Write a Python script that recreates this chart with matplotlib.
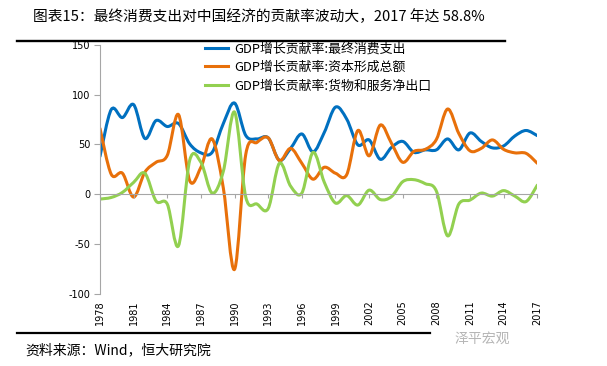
import numpy as np
import matplotlib
matplotlib.use("Agg")
import matplotlib.pyplot as plt
from matplotlib.path import Path
from matplotlib.patches import PathPatch
from matplotlib.lines import Line2D

plt.rcParams['font.family'] = ['Noto Sans CJK SC', 'DejaVu Sans']

years = list(range(1978, 2018))
consumption = [38, 85, 77, 90, 56, 74, 68, 71, 50.5, 41.5,
               42, 71, 91.6, 59, 55.5, 56.6, 34, 46, 60.5, 42.5,
               62, 87.5, 75.5, 49.5, 54.5, 35, 47, 53, 42, 44.5,
               44.5, 55.5, 44.5, 61.5, 53, 46.5, 48.5, 58.5, 64, 58.8]
capital = [66, 20, 21, -3, 22, 32, 39, 80, 13.5, 27,
           55.5, 6, -75.7, 40, 52, 56.6, 33.7, 46, 31, 15,
           27, 21, 19.5, 64, 38.5, 69.5, 51, 32, 43, 45,
           55, 85.6, 61, 43.5, 46, 54.5, 45, 41.5, 41, 31]
net_exports = [-5, -3.4, 1.7, 11.8, 21, -7, -10, -52, 34, 32,
               1, 23, 82.5, -3, -10, -14.5, 31, 8, 1, 42,
               12, -9, -1.5, -11, 4, -5.5, -2.5, 12.5, 14.5, 10.5,
               3, -42, -10, -6, 1, -2, 3.5, -2, -7.5, 9]
series_names = ['GDP增长贡献率:最终消费支出',
                'GDP增长贡献率:资本形成总额',
                'GDP增长贡献率:货物和服务净出口']
colors = ['#0070C0', '#E8700A', '#92D050']
xtick_years = list(range(1978, 2018, 3))
yticks = [-100, -50, 0, 50, 100, 150]
title = '图表15：最终消费支出对中国经济的贡献率波动大，2017 年达 58.8%'
source = '资料来源：Wind，恒大研究院'


def smooth_path(x, y):
    x = np.asarray(x, float)
    y = np.asarray(y, float)
    n = len(x)
    verts = [(x[0], y[0])]
    codes = [Path.MOVETO]
    for i in range(n - 1):
        xm, ym = (x[i - 1], y[i - 1]) if i > 0 else (x[i], y[i])
        xp, yp = (x[i + 2], y[i + 2]) if i + 2 < n else (x[i + 1], y[i + 1])
        c1 = (x[i] + (x[i + 1] - xm) / 6, y[i] + (y[i + 1] - ym) / 6)
        c2 = (x[i + 1] - (xp - x[i]) / 6, y[i + 1] - (yp - y[i]) / 6)
        verts += [c1, c2, (x[i + 1], y[i + 1])]
        codes += [Path.CURVE4] * 3
    return Path(verts, codes)


fig = plt.figure(figsize=(6.07, 3.66), dpi=100)
fig.patch.set_facecolor('white')
ax = fig.add_axes([100 / 607, 1 - 293.5 / 366, 437.3 / 607, 248.5 / 366])

handles = []
for vals, c, name in zip([consumption, capital, net_exports], colors, series_names):
    p = PathPatch(smooth_path(years, vals), facecolor='none', edgecolor=c,
                  lw=2.2, capstyle='round', joinstyle='round')
    ax.add_patch(p)
    handles.append(Line2D([], [], color=c, lw=2.2, label=name))

ax.set_xlim(1978, 2017)
ax.set_ylim(-100, 150)

gray = '#A6A6A6'
for s in ['top', 'right']:
    ax.spines[s].set_visible(False)
ax.spines['left'].set_color(gray)
ax.spines['bottom'].set_color(gray)
ax.spines['bottom'].set_position(('data', 0))
ax.set_yticks(yticks)
ax.set_yticklabels([str(v) for v in yticks], family='DejaVu Sans', fontsize=7)
ax.tick_params(axis='y', direction='out', length=4, color=gray, pad=3)
ax.set_xticks(xtick_years)
ax.tick_params(axis='x', direction='out', length=3, color=gray, labelbottom=False)

sec = ax.secondary_xaxis(0)
sec.set_xticks(xtick_years)
sec.set_xticklabels([str(y) for y in xtick_years], rotation=90,
                    family='DejaVu Sans', fontsize=7)
sec.tick_params(length=0, pad=5)
sec.spines['bottom'].set_visible(False)

leg = ax.legend(handles=handles, loc='upper left',
                bbox_to_anchor=(205 / 607, 1 - 42.5 / 366),
                bbox_transform=fig.transFigure, frameon=False, fontsize=9.3,
                handlelength=1.8, handletextpad=0.5, labelspacing=0.42,
                borderpad=0, borderaxespad=0)

fig.text(33 / 607, 1 - 17 / 366, title, ha='left', va='center', fontsize=10.6)
fig.add_artist(Line2D([17 / 607, 505 / 607], [1 - 41 / 366] * 2, color='black', lw=1.7))
fig.add_artist(Line2D([17 / 607, 430 / 607], [1 - 333 / 366] * 2, color='black', lw=1.6))
fig.text(25 / 607, 1 - 350 / 366, source, ha='left', va='center', fontsize=10, style='italic')
fig.text(455 / 607, 1 - 339 / 366, '泽平宏观', ha='left', va='center', fontsize=10, color='#B5B5B5')

fig.savefig('out.png', dpi=100)
